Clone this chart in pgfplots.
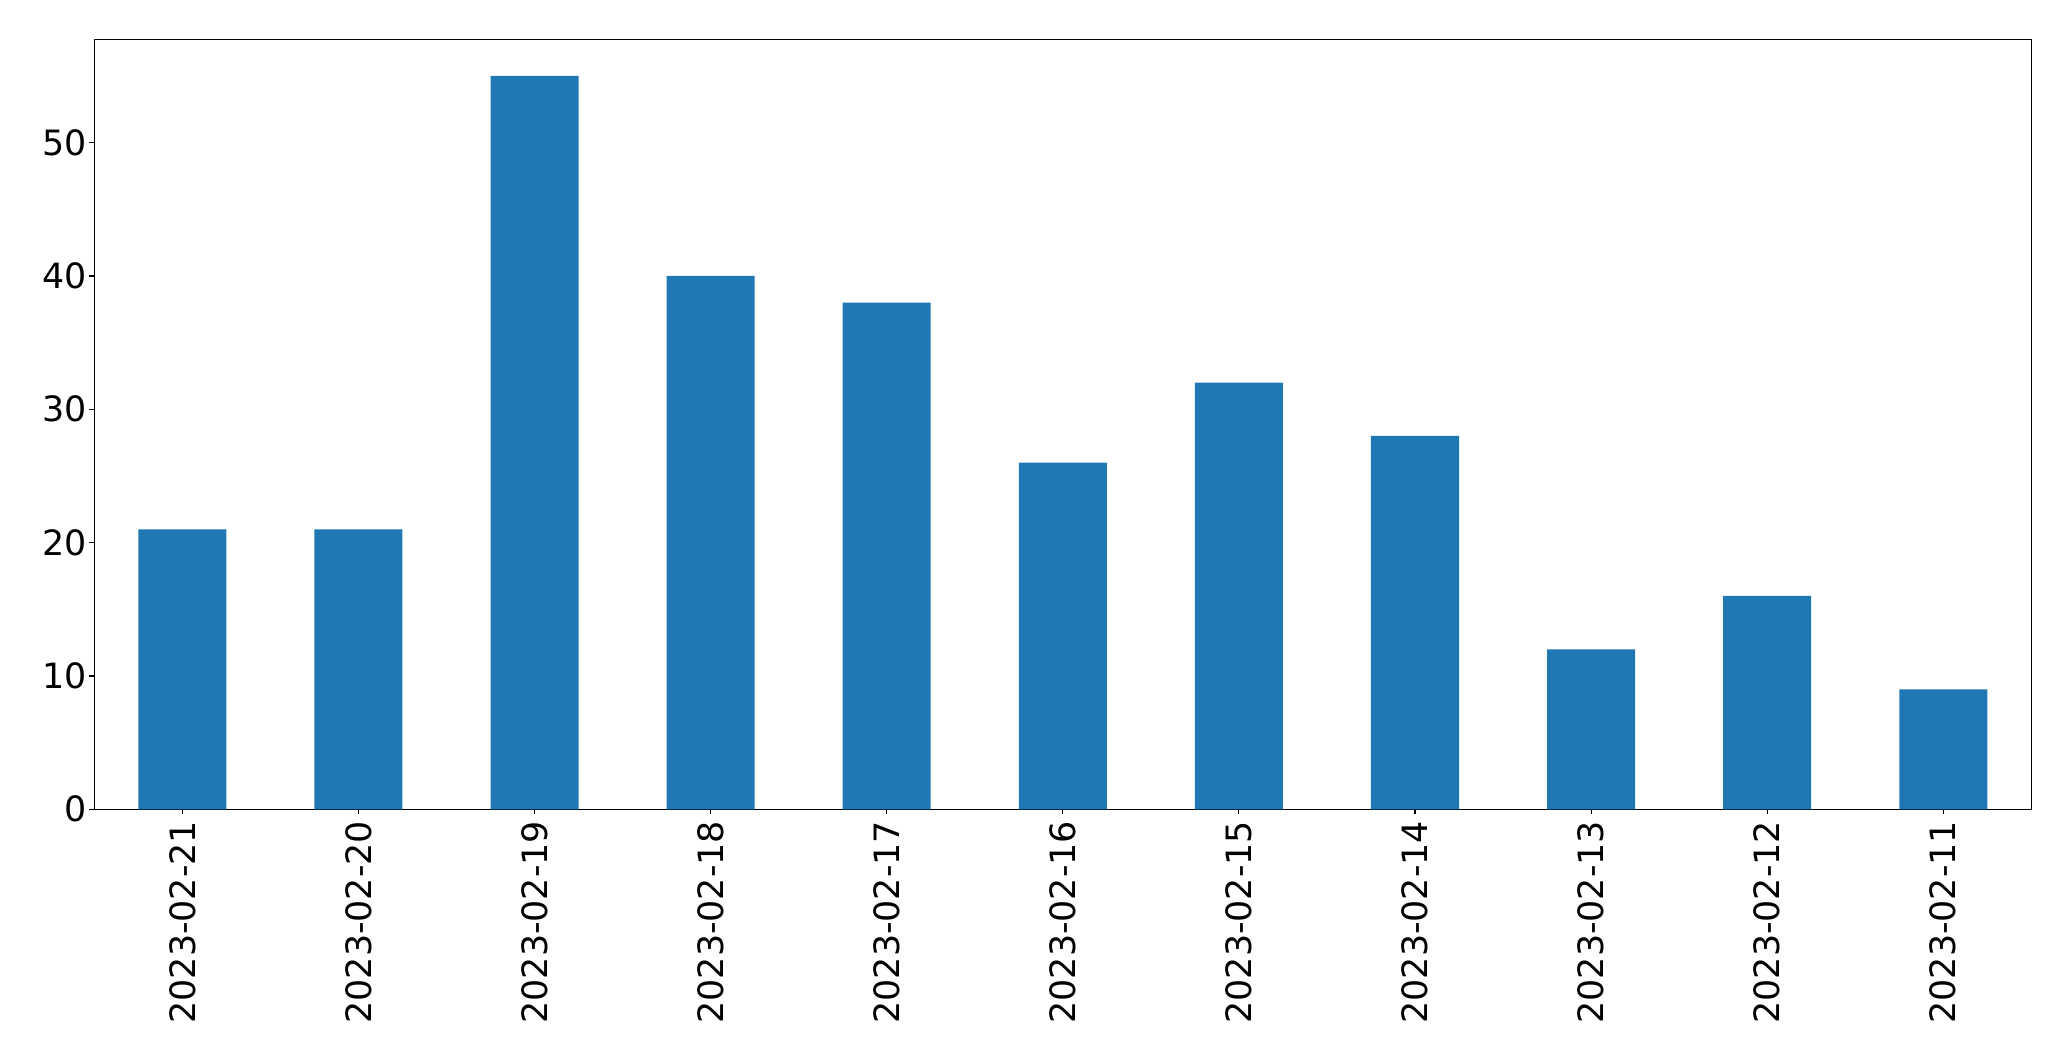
\documentclass[border=0pt]{standalone}
\usepackage{pgfplots}
\pgfplotsset{compat=1.18}
\usepackage{pgfplotstable}
\usepackage{fontspec}
\setmainfont{DejaVu Sans}
\definecolor{mplblue}{HTML}{1F77B4}
\pgfplotstableread{
x y
0 21
1 21
2 55
3 40
4 38
5 26
6 32
7 28
8 12
9 16
10 9
}\datatable
\begin{document}
\begin{tikzpicture}
\useasboundingbox (-34.08pt,-90.95pt) rectangle (714.28pt,292.44pt);
\begin{axis}[
  at={(0,0)}, anchor=south west,
  scale only axis,
  width=699.93pt, height=278.24pt,
  xmin=-0.5, xmax=10.5, ymin=0, ymax=57.75,
  ybar, bar width=0.5,
  xtick={0,...,10},
  xticklabels={2023-02-21,2023-02-20,2023-02-19,2023-02-18,2023-02-17,2023-02-16,2023-02-15,2023-02-14,2023-02-13,2023-02-12,2023-02-11},
  ytick={0,10,20,30,40,50},
  xtick pos=lower, ytick pos=left,
  tick align=outside,
  major tick length=1.77pt,
  tick style={black, line width=0.4pt},
  axis line style={line width=0.4pt},
  ticklabel style={font=\fontsize{12.6}{15.2}\selectfont},
  xticklabel style={rotate=90, anchor=east, inner sep=0pt},
  yticklabel style={anchor=east, inner sep=0pt},
  xticklabel shift=2.2pt,
  yticklabel shift=0.8pt,
  /pgf/number format/assume math mode=true,
]
\addplot[draw=none, fill=mplblue] table[x=x, y=y] {\datatable};
\end{axis}
\end{tikzpicture}
\end{document}
